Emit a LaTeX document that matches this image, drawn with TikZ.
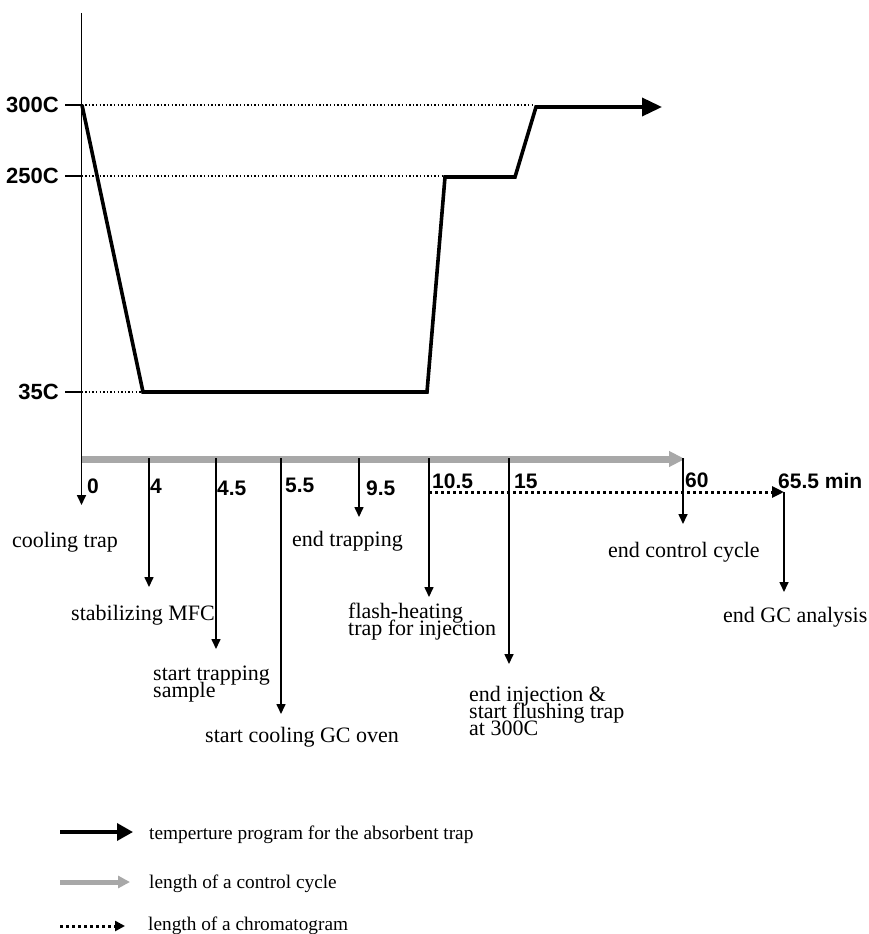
\documentclass[tikz,border=0pt]{standalone}
\usepackage{fontspec}
\setmainfont{Liberation Serif}
\newfontfamily\numfont{Liberation Sans}
\usetikzlibrary{arrows.meta}
\definecolor{cyclegray}{HTML}{A8A8A8}
\begin{document}
\begin{tikzpicture}[x=1pt,y=-1pt,
  templine/.style={line width=3.6pt, line join=miter},
  axisline/.style={line width=1.7pt},
  guide/.style={line width=1.4pt, dash pattern=on 1.4pt off 2.2pt},
  tickarrow/.style={line width=1.6pt, -{Triangle[length=10pt,width=9pt]}},
  cyclearrow/.style={line width=7pt, draw=cyclegray, -{Triangle[length=16pt,width=15pt]}},
  chromarrow/.style={line width=3pt, dash pattern=on 3pt off 3pt, -{Triangle[length=12pt,width=11pt]}},
  num/.style={font=\numfont\bfseries\fontsize{21}{21}\selectfont, anchor=base west, inner sep=0},
  templbl/.style={font=\numfont\bfseries\fontsize{22}{22}\selectfont, anchor=east, inner sep=0},
  lbl/.style={font={\fontsize{22}{17}\selectfont\lineskiplimit=-30pt\lineskip=0pt}, anchor=base west, inner sep=0, align=left},
  leg/.style={font=\fontsize{19.3}{20}\selectfont, anchor=base west, inner sep=0}
]
\useasboundingbox (0,0) rectangle (869,934);

% axis
\coordinate (axtop) at (81.5,13);
\coordinate (ax0) at (81.5,505);
\draw[axisline, -{Triangle[length=10pt,width=9pt]}] (axtop) -- (ax0);

% temperature ticks and labels
\coordinate (tk300) at (65,105); \coordinate (tk300r) at (81.5,105);
\coordinate (tk250) at (65,176); \coordinate (tk250r) at (81.5,176);
\coordinate (tk35) at (65,392);  \coordinate (tk35r) at (81.5,392);
\draw[axisline] (tk300) -- (tk300r);
\draw[axisline] (tk250) -- (tk250r);
\draw[axisline] (tk35) -- (tk35r);
\node[templbl] (l300) at (59,105) {300C};
\node[templbl] (l250) at (59,176) {250C};
\node[templbl] (l35) at (59,392) {35C};

% guide dotted lines
\coordinate (g300e) at (535,105);
\coordinate (g250e) at (445,176);
\coordinate (g35e) at (143,392);
\draw[guide] (tk300r) -- (g300e);
\draw[guide] (tk250r) -- (g250e);
\draw[guide] (tk35r) -- (g35e);

% temperature program
\coordinate (p300) at (82,105);
\coordinate (p35a) at (143,392);
\coordinate (p35b) at (427,392);
\coordinate (p250a) at (445,177);
\coordinate (p250b) at (515,177);
\coordinate (p300b) at (536,107);
\coordinate (pend) at (662,107);
\draw[templine, -{Triangle[length=20pt,width=18pt]}] (p300) -- (p35a) -- (p35b) -- (p250a) -- (p250b) -- (p300b) -- (pend);

% control cycle bar
\coordinate (cyc0) at (82,459);
\coordinate (cyc1) at (685,459);
\draw[cyclearrow] (cyc0) -- (cyc1);

% chromatogram
\coordinate (chr0) at (429,492);
\coordinate (chr1) at (784,492);
\draw[chromarrow] (chr0) -- (chr1);

% time ticks
\coordinate (t4a) at (149,458);   \coordinate (t4b) at (149,587);
\coordinate (t45a) at (216,458);  \coordinate (t45b) at (216,649);
\coordinate (t55a) at (281,458);  \coordinate (t55b) at (281,714);
\coordinate (t95a) at (359,458);  \coordinate (t95b) at (359,517);
\coordinate (t105a) at (429,458); \coordinate (t105b) at (429,597);
\coordinate (t15a) at (509,458);  \coordinate (t15b) at (509,664);
\coordinate (t60a) at (683,458);  \coordinate (t60b) at (683,524);
\coordinate (t655a) at (784,492); \coordinate (t655b) at (784,592);
\draw[tickarrow] (t4a) -- (t4b);
\draw[tickarrow] (t45a) -- (t45b);
\draw[tickarrow] (t55a) -- (t55b);
\draw[tickarrow] (t95a) -- (t95b);
\draw[tickarrow] (t105a) -- (t105b);
\draw[tickarrow] (t15a) -- (t15b);
\draw[tickarrow] (t60a) -- (t60b);
\draw[tickarrow] (t655a) -- (t655b);

% numbers
\node[num] (n0) at (87,493) {0};
\node[num] (n4) at (150,493) {4};
\node[num] (n45) at (217,495) {4.5};
\node[num] (n55) at (285,492) {5.5};
\node[num] (n95) at (366,495) {9.5};
\node[num] (n105) at (432,488) {10.5};
\node[num] (n15) at (514,488) {15};
\node[num] (n60) at (685,487) {60};
\node[num] (n655) at (778,488) {65.5 min};

% event labels (anchor = baseline of last line)
\node[lbl] (e0) at (12,547) {cooling trap};
\node[lbl] (e4) at (71,620) {stabilizing MFC};
\node[lbl] (e45) at (153,697) {start trapping\\sample};
\node[lbl] (e55) at (205,742) {start cooling GC oven};
\node[lbl] (e95) at (292,546) {end trapping};
\node[lbl] (e105) at (348,635) {flash-heating\\trap for injection};
\node[lbl] (e15) at (469,735) {end injection \&\\start flushing trap\\at 300C};
\node[lbl] (e60) at (608,557) {end control cycle};
\node[lbl] (e655) at (723,622) {end GC analysis};

% legend
\coordinate (la0) at (60,832); \coordinate (la1) at (133,832);
\coordinate (lb0) at (60,882); \coordinate (lb1) at (130,882);
\coordinate (lc0) at (60,926); \coordinate (lc1) at (125,926);
\draw[line width=3.5pt, -{Triangle[length=16pt,width=17pt]}] (la0) -- (la1);
\draw[line width=5pt, draw=cyclegray, -{Triangle[length=12pt,width=12pt]}] (lb0) -- (lb1);
\draw[line width=3pt, dash pattern=on 3pt off 3pt, -{Triangle[length=10pt,width=10pt]}] (lc0) -- (lc1);
\node[leg] (lta) at (149,839) {temperture program for the absorbent trap};
\node[leg] (ltb) at (149,888) {length of a control cycle};
\node[leg] (ltc) at (148,930) {length of a chromatogram};
\end{tikzpicture}
\end{document}
